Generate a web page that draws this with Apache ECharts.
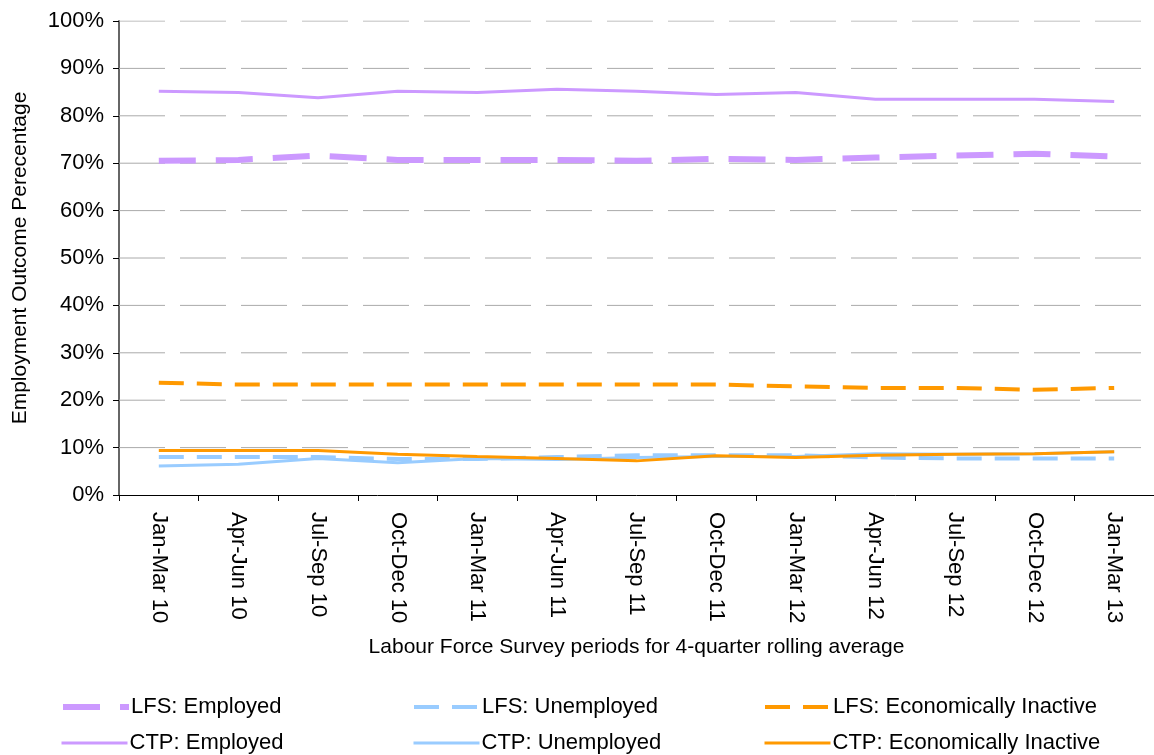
<!DOCTYPE html>
<html>
<head>
<meta charset="utf-8">
<script src="https://cdn.jsdelivr.net/npm/echarts@6/dist/echarts.min.js"></script>
<style>
html,body{margin:0;padding:0;background:#fff;}
#main{width:1154px;height:755px;}
</style>
</head>
<body>
<div id="main"></div>
<script>
const categories = ["Jan-Mar 10","Apr-Jun 10","Jul-Sep 10","Oct-Dec 10","Jan-Mar 11","Apr-Jun 11","Jul-Sep 11","Oct-Dec 11","Jan-Mar 12","Apr-Jun 12","Jul-Sep 12","Oct-Dec 12","Jan-Mar 13"];
const lfsEmployed = [70.5,70.7,71.6,70.7,70.7,70.7,70.5,70.9,70.7,71.2,71.6,72.0,71.4];
const lfsUnemployed = [8.0,8.0,8.0,7.6,7.6,8.0,8.4,8.4,8.4,7.9,7.7,7.7,7.7];
const lfsInactive = [23.7,23.3,23.3,23.3,23.3,23.3,23.3,23.3,22.9,22.6,22.6,22.2,22.6];
const ctpEmployed = [85.2,84.9,83.8,85.2,84.9,85.6,85.2,84.5,84.9,83.5,83.5,83.5,83.0];
const ctpUnemployed = [6.1,6.5,7.7,6.8,7.7,7.5,7.9,8.1,8.1,8.7,8.6,8.7,9.1];
const ctpInactive = [9.4,9.4,9.4,8.6,8.1,7.7,7.2,8.3,7.9,8.4,8.6,8.7,9.1];
const yTicks = [0,10,20,30,40,50,60,70,80,90,100];

const purple = '#CC99FF', blue = '#99CCFF', orange = '#FF9900';
const font = 'Liberation Sans, Arial, sans-serif';

const styles = [
  {color: purple, width: 6, type: [37, 20]},
  {color: blue, width: 4, type: [25, 13]},
  {color: orange, width: 4, type: [25, 13]},
  {color: purple, width: 3, type: 'solid'},
  {color: blue, width: 3, type: 'solid'},
  {color: orange, width: 3, type: 'solid'}
];
const names = ['LFS: Employed','LFS: Unemployed','LFS: Economically Inactive','CTP: Employed','CTP: Unemployed','CTP: Economically Inactive'];
const values = [lfsEmployed, lfsUnemployed, lfsInactive, ctpEmployed, ctpUnemployed, ctpInactive];

const series = [];
// dashed horizontal gridlines, drawn on a hidden value x-axis spanning the grid
yTicks.filter(v => v > 0).forEach(v => {
  series.push({
    name: '_grid' + v, type: 'line', xAxisIndex: 1, z: 1, silent: true,
    data: [[0, v], [categories.length, v]], symbol: 'none',
    lineStyle: {color: '#aaa', width: 1, type: [46, 15]},
    emphasis: {disabled: true}, animation: false, tooltip: {show: false}
  });
});
names.forEach((n, i) => series.push({
  name: n, type: 'line', data: values[i], symbol: 'none', smooth: false, z: 3,
  lineStyle: {color: styles[i].color, width: styles[i].width, type: styles[i].type},
  itemStyle: {color: styles[i].color},
  emphasis: {disabled: true}, animation: false
}));

const legendPos = [
  {left: 60, top: 696}, {left: 412, top: 696}, {left: 763, top: 696},
  {left: 60, top: 732}, {left: 412, top: 732}, {left: 763, top: 732}
];
const legends = names.map((n, i) => ({
  data: [n], left: legendPos[i].left, top: legendPos[i].top,
  itemWidth: 66, itemHeight: 20, itemGap: 0,
  padding: 0,
  itemStyle: {opacity: 0},
  lineStyle: {width: styles[i].width, type: styles[i].type, color: styles[i].color},
  textStyle: {fontFamily: font, fontSize: 22, color: '#000', padding: [0,0,0,-3]},
  selectedMode: false
}));

const chart = echarts.init(document.getElementById('main'));
chart.setOption({
  animation: false,
  backgroundColor: '#fff',
  grid: {left: 119, top: 21, width: 1040, height: 474, containLabel: false},
  legend: legends,
  xAxis: [{
    type: 'category', data: categories, boundaryGap: true,
    name: 'Labour Force Survey periods for 4-quarter rolling average',
    nameLocation: 'middle', nameGap: 142,
    nameTextStyle: {fontFamily: font, fontSize: 21, color: '#000'},
    axisLine: {lineStyle: {color: '#000', width: 1}},
    axisTick: {show: true, length: 6, lineStyle: {color: '#000'}, alignWithLabel: false},
    axisLabel: {rotate: -90, fontFamily: font, fontSize: 22, color: '#000', margin: 17, interval: 0}
  }, {
    type: 'value', min: 0, max: categories.length, show: false
  }],
  yAxis: {
    type: 'value', min: 0, max: 100, interval: 10,
    name: 'Employment Outcome Perecentage', nameLocation: 'middle', nameGap: 88,
    nameTextStyle: {fontFamily: font, fontSize: 21, color: '#000'},
    axisLine: {show: true, lineStyle: {color: '#666', width: 2}},
    axisTick: {show: true, length: 6, lineStyle: {color: '#000'}},
    axisLabel: {fontFamily: font, fontSize: 22, color: '#000', margin: 15,
      formatter: v => yTicks.indexOf(v) >= 0 ? v + '%' : ''},
    splitLine: {show: false}
  },
  series: series
});
</script>
</body>
</html>
